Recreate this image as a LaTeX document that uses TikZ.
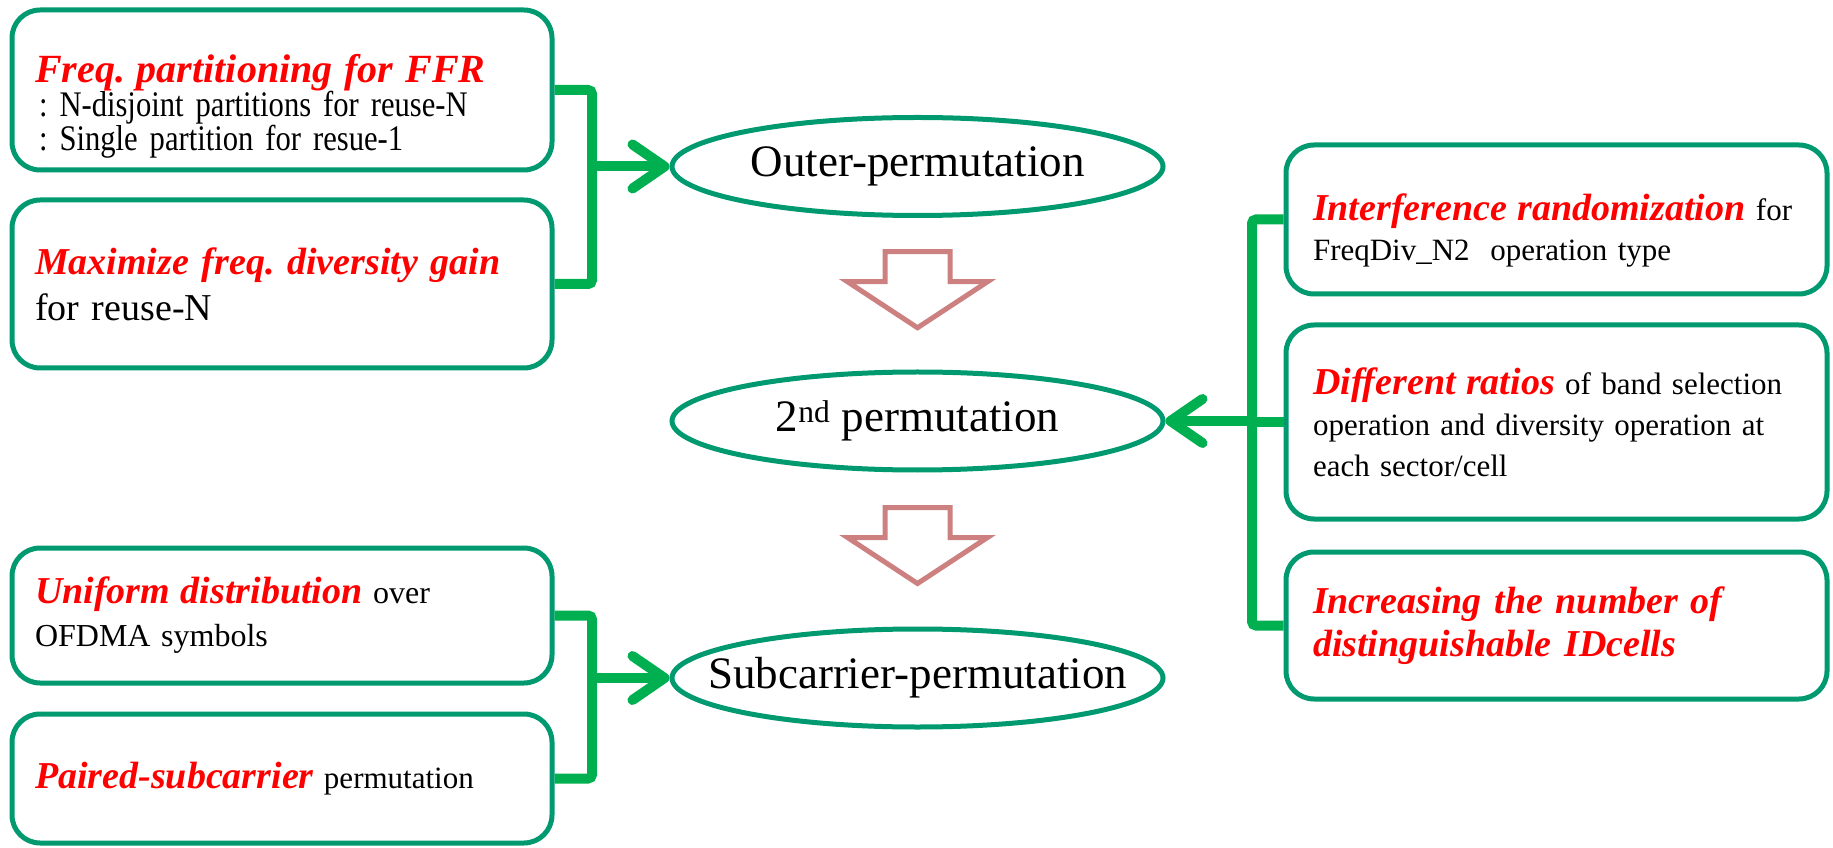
\documentclass[tikz,border=0pt]{standalone}
\usepackage{fontspec}
\setmainfont{Liberation Serif}
\newfontfamily\condserif[FakeStretch=0.85]{Liberation Serif}
\usepackage{xcolor}
\usepackage{tikz}
\usetikzlibrary{shapes.geometric, arrows.meta}
\definecolor{boxteal}{RGB}{0,153,112}
\definecolor{busgreen}{RGB}{0,176,80}
\definecolor{blockrose}{RGB}{205,128,128}
\newcommand{\redbi}[2][38]{{\fontsize{#1}{43}\selectfont\color{red}\bfseries\itshape #2}}
\tikzstyle{leftbox} = [rectangle, rounded corners=28pt, draw=boxteal, line width=5pt, text width=494pt, inner xsep=23pt, inner ysep=4pt, align=left]
\tikzstyle{rightbox} = [rectangle, rounded corners=28pt, draw=boxteal, line width=5pt, text width=487pt, inner xsep=27pt, inner ysep=4pt, align=left]
\tikzstyle{bus} = [line width=10pt, draw=busgreen, rounded corners=4pt]
\tikzstyle{arrow} = [line width=10pt, draw=busgreen, -{Straight Barb[length=32pt, width=44pt, round]}]

\begin{document}
\frenchspacing
\begin{tikzpicture}[x=1pt, y=1pt]
    \tikzset{perm/.style = {draw=boxteal, shape=ellipse, line width=5pt, minimum width=491pt, minimum height=98pt, inner sep=0pt, font=\rmfamily\fontsize{45}{54}\selectfont},
    blockdown/.style = {draw=blockrose, line width=5pt, fill=white, line join=miter}}
\useasboundingbox (0,0) rectangle (1833,847);

% left boxes
\node (freq) [leftbox, minimum height=160pt, font=\condserif\fontsize{36}{34}\selectfont] at (282,757) {\rule{0pt}{60pt}\redbi[40]{\rmfamily Freq. partitioning for FFR}\\ \hspace*{4pt}: N-disjoint partitions for reuse-N\\ \hspace*{4pt}: Single partition for resue-1};
\node (maxdiv) [leftbox, below of=freq, node distance=194pt, minimum height=168pt, font=\rmfamily\fontsize{38}{46}\selectfont] {\redbi{Maximize freq. diversity gain}\\ for reuse-N};
\node (unif) [leftbox, below of=maxdiv, node distance=331.5pt, minimum height=135pt, font=\rmfamily\fontsize{32}{43}\selectfont] {\redbi{Uniform distribution} over\\ OFDMA symbols};
\node (paired) [leftbox, below of=unif, node distance=163pt, minimum height=129pt, font=\rmfamily\fontsize{31}{40}\selectfont] {\redbi{Paired-subcarrier} permutation};

% right boxes
\node (ints) [rightbox, minimum height=149pt, font=\rmfamily\fontsize{31}{40}\selectfont] at (1556.5,627.5) {\rule{0pt}{48pt}\redbi{Interference randomization} for\\ FreqDiv\_N2\ \ operation type};
\node (diff) [rightbox, below of=ints, node distance=202.5pt, minimum height=194pt, font=\rmfamily\fontsize{31}{41}\selectfont] {\redbi{Different ratios} of band selection\\ operation and diversity operation at\\ each sector/cell};
\node (incr) [rightbox, below of=diff, node distance=203.5pt, minimum height=147pt, font=\rmfamily\fontsize{38}{43}\selectfont] {\redbi{Increasing the number of\\ distinguishable IDcells}};

% permutations
\node (outer) [perm] at (917.5,680.5) {\makebox[0pt]{Outer-permutation}};
\node (second) [perm, below of=outer, node distance=254.5pt] {\makebox[0pt]{2\textsuperscript{nd} permutation}};
\node (subc) [perm, below of=second, node distance=257pt] {\makebox[0pt]{Subcarrier-permutation}};

\path (outer) -- (second) coordinate[midway] (amid);
\draw[blockdown] ([shift={(-32.5,42)}]amid) -- ++(65,0) -- ++(0,-30) -- ++(37.5,0) -- ([shift={(0,-34)}]amid) -- ([shift={(-70,12)}]amid) -- ++(37.5,0) -- cycle;
\path (second) -- (subc) coordinate[midway] (bmid);
\draw[blockdown] ([shift={(-32.5,42)}]bmid) -- ++(65,0) -- ++(0,-30) -- ++(37.5,0) -- ([shift={(0,-34)}]bmid) -- ([shift={(-70,12)}]bmid) -- ++(37.5,0) -- cycle;

% connectors
\coordinate [right of=freq, node distance=310pt] (ajoint);
\draw[bus] (freq.east) -- (ajoint) |- (maxdiv.east);
\draw[arrow] (ajoint |- outer) -- (outer);

\coordinate [right of=unif, node distance=310pt] (bjoint);
\draw[bus] (unif.east) -- (bjoint) |- (paired.east);
\draw[arrow] (bjoint |- subc) -- (subc);

\coordinate [left of=ints, node distance=304.5pt] (cjoint);
\draw[bus] (ints.west) -- (cjoint) |- (incr.west);
\draw[bus] (diff.west) -- (cjoint |- diff);
\draw[arrow] (cjoint |- second) -- (second);

\end{tikzpicture}
\end{document}
